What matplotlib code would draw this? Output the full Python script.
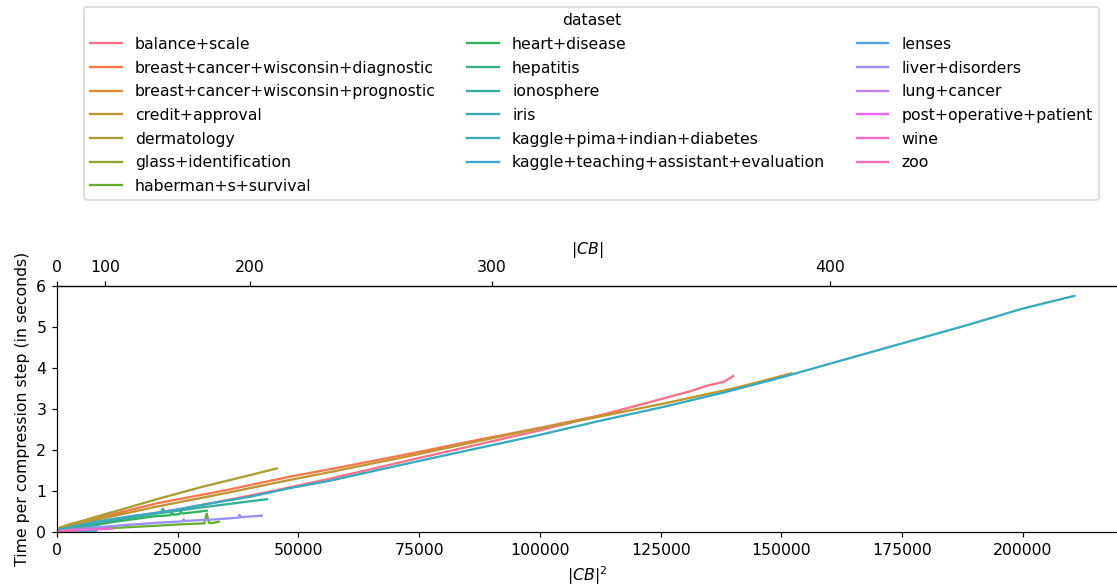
import matplotlib
matplotlib.use("Agg")
import matplotlib.pyplot as plt
import numpy as np
import pandas as pd
import seaborn as sns

# x values are |CB|^2, y values are seconds per compression step
datasets = [
    "balance+scale", "breast+cancer+wisconsin+diagnostic",
    "breast+cancer+wisconsin+prognostic", "credit+approval", "dermatology",
    "glass+identification", "haberman+s+survival", "heart+disease",
    "hepatitis", "ionosphere", "iris", "kaggle+pima+indian+diabetes",
    "kaggle+teaching+assistant+evaluation", "lenses", "liver+disorders",
    "lung+cancer", "post+operative+patient", "wine", "zoo",
]

balance_x = [0, 5000, 15000, 25000, 34400, 44700, 56500, 65000, 74000, 87000, 100000, 113000, 126000, 131000, 135000, 138000, 140000]
balance_y = [0.05, 0.15, 0.37, 0.55, 0.76, 1.00, 1.30, 1.53, 1.78, 2.13, 2.48, 2.86, 3.27, 3.43, 3.58, 3.66, 3.80]

bcd_x = [0, 3000, 7000, 20700, 35000, 48240, 56500, 74000, 86000, 100000, 116500]
bcd_y = [0.08, 0.20, 0.30, 0.70, 1.02, 1.35, 1.53, 1.93, 2.22, 2.54, 2.94]

bcp_x = [0, 2000, 6000, 10000, 14100]
bcp_y = [0.06, 0.15, 0.27, 0.37, 0.46]

credit_x = [0, 3000, 7000, 20700, 35000, 48240, 56500, 74100, 87000, 100000, 113000, 125900, 140000, 146000, 152100]
credit_y = [0.07, 0.17, 0.27, 0.62, 0.95, 1.27, 1.46, 1.88, 2.21, 2.53, 2.83, 3.14, 3.50, 3.68, 3.87]

derm_x = [0, 2000, 6900, 14000, 20700, 30000, 38000, 45500]
derm_y = [0.07, 0.16, 0.33, 0.57, 0.80, 1.10, 1.33, 1.55]

glass_x = [0, 4000, 9000, 16500]
glass_y = [0.05, 0.15, 0.25, 0.38]

haberman_x = [0, 5000, 12000, 20000, 26000, 30500, 31000, 31500, 32300, 33500]
haberman_y = [0.03, 0.06, 0.10, 0.15, 0.19, 0.21, 0.45, 0.22, 0.22, 0.25]

heart_x = [0, 5000, 12000, 20000, 23500, 23800, 24100, 25400, 25700, 26000, 31000]
heart_y = [0.04, 0.12, 0.25, 0.38, 0.41, 0.48, 0.42, 0.44, 0.50, 0.45, 0.52]

hepatitis_x = [0, 3000, 8600]
hepatitis_y = [0.02, 0.08, 0.18]

iono_x = [0, 5000, 12000, 20700, 30000, 38000, 43500]
iono_y = [0.05, 0.15, 0.29, 0.45, 0.60, 0.72, 0.80]

iris_x = [0, 3000, 8100]
iris_y = [0.03, 0.06, 0.10]

pima_x = [0, 3000, 8000, 15000, 21500, 21900, 22300, 30000, 40000, 48240, 56500, 74100, 87000, 100000, 112000, 125900, 138000, 150000, 162000, 175000, 188000, 200000, 210700]
pima_y = [0.05, 0.12, 0.25, 0.38, 0.48, 0.57, 0.49, 0.66, 0.86, 1.07, 1.25, 1.71, 2.04, 2.37, 2.70, 3.06, 3.40, 3.77, 4.17, 4.60, 5.03, 5.45, 5.76]

teaching_x = [0, 3000, 8200]
teaching_y = [0.01, 0.02, 0.03]

lenses_x = [0, 100, 200]
lenses_y = [0.005, 0.008, 0.01]

liver_x = [0, 5000, 12000, 20000, 26000, 26200, 26400, 33000, 37600, 37800, 38000, 42400]
liver_y = [0.02, 0.08, 0.15, 0.22, 0.26, 0.31, 0.27, 0.31, 0.35, 0.42, 0.36, 0.40]

lung_x = [0, 200, 370]
lung_y = [0.005, 0.008, 0.01]

postop_x = [0, 1500, 2900]
postop_y = [0.01, 0.02, 0.03]

wine_x = [0, 5000, 11400]
wine_y = [0.02, 0.05, 0.08]

zoo_x = [0, 2000, 3700]
zoo_y = [0.01, 0.03, 0.05]

series = [
    (balance_x, balance_y), (bcd_x, bcd_y), (bcp_x, bcp_y), (credit_x, credit_y),
    (derm_x, derm_y), (glass_x, glass_y), (haberman_x, haberman_y),
    (heart_x, heart_y), (hepatitis_x, hepatitis_y), (iono_x, iono_y),
    (iris_x, iris_y), (pima_x, pima_y), (teaching_x, teaching_y),
    (lenses_x, lenses_y), (liver_x, liver_y), (lung_x, lung_y),
    (postop_x, postop_y), (wine_x, wine_y), (zoo_x, zoo_y),
]

rows = []
for name, (xs, ys) in zip(datasets, series):
    for xv, yv in zip(xs, ys):
        rows.append({"dataset": name, "cb2": xv, "time": yv})
df = pd.DataFrame(rows)

plt.rcParams["font.size"] = 10.3

dpi = 110
fig = plt.figure(figsize=(1117 / dpi, 588 / dpi), dpi=dpi)
ax = fig.add_axes([57 / 1117, 56 / 588, 1060 / 1117, 246 / 588])

sns.lineplot(data=df, x="cb2", y="time", hue="dataset", hue_order=datasets, ax=ax)

ax.set_xlim(0, 219500)
ax.set_ylim(0, 6)
ax.spines["right"].set_visible(False)
ax.set_xlabel("$|CB|^2$")
ax.set_ylabel("Time per compression step (in seconds)")

secax = ax.secondary_xaxis("top", functions=(lambda v: np.sqrt(np.clip(v, 0, None)), np.square))
secax.set_xticks([0, 100, 200, 300, 400])
secax.set_xlabel("$|CB|$")

sns.move_legend(ax, "upper center", bbox_to_anchor=(591.5 / 1117, 1 - 7 / 588),
                bbox_transform=fig.transFigure, borderaxespad=0, ncol=3,
                title="dataset", labelspacing=0.55, handletextpad=0.85)

fig.savefig("out.png", dpi=dpi)
